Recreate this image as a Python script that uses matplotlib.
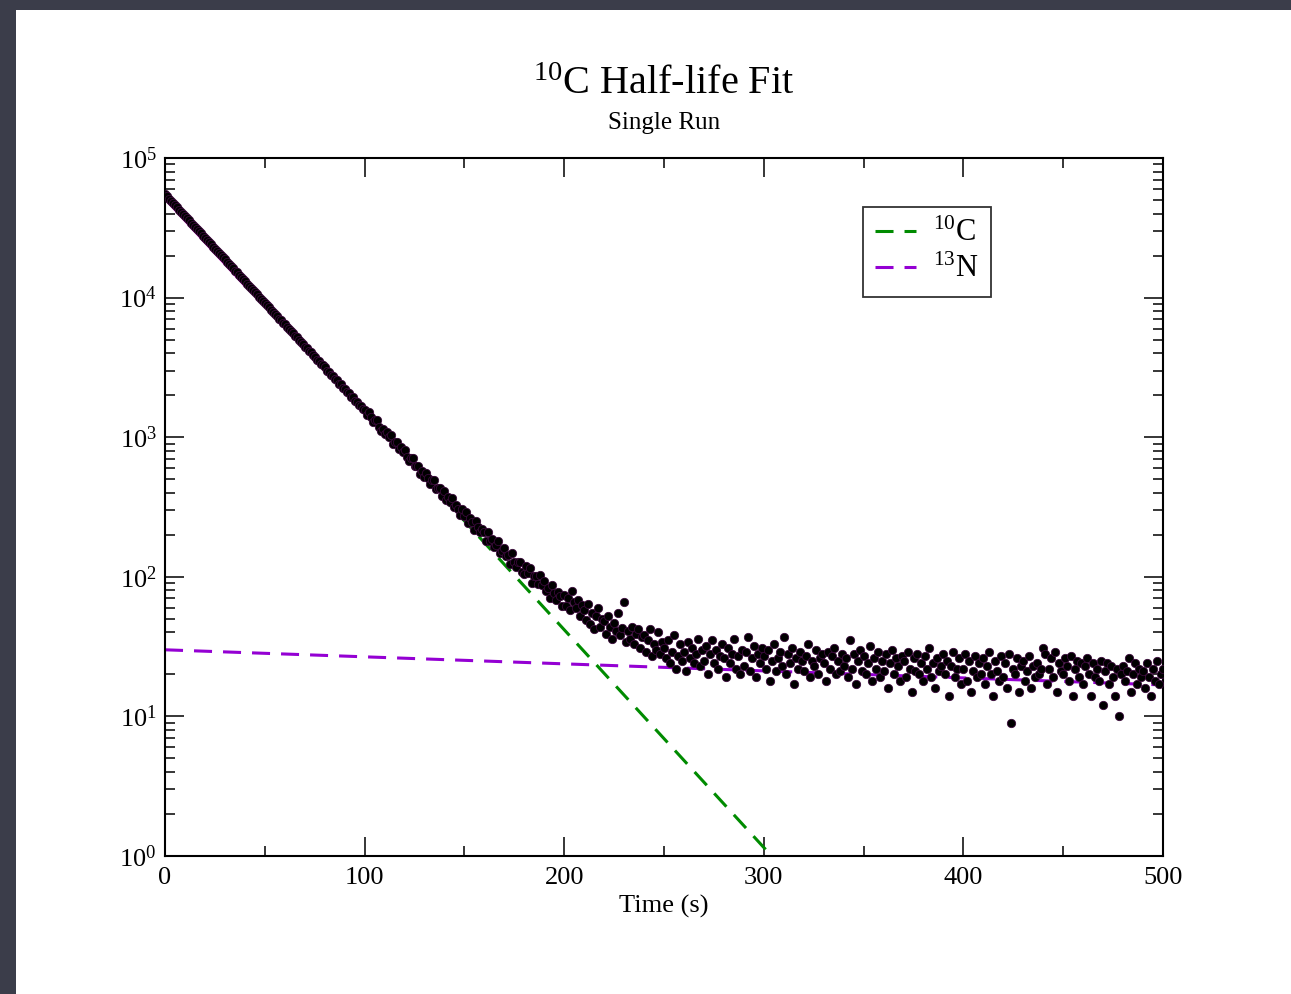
import numpy as np
import matplotlib
matplotlib.use("Agg")
import matplotlib.pyplot as plt
from matplotlib.patches import Rectangle
from matplotlib.ticker import LogLocator, MultipleLocator, NullFormatter

plt.rcParams['font.family'] = ['Liberation Serif', 'DejaVu Serif']
plt.rcParams['mathtext.fontset'] = 'custom'
plt.rcParams['mathtext.rm'] = 'Liberation Serif'
plt.rcParams['mathtext.it'] = 'Liberation Serif:italic'

# Counts per 1 s bin, t = 0 .. 500 s
counts = [
    55120, 53010, 51260, 49330, 47700, 45890, 44410, 42720, 41300, 39760,
    38450, 37010, 35790, 34420, 33310, 32050, 31010, 29830, 28860, 27760,
    26790, 25920, 24910, 24130, 23190, 22450, 21580, 20900, 20080, 19450,
    18760, 18030, 17470, 16780, 16260, 15610, 15130, 14530, 14090, 13520,
    13110, 12580, 12200, 11710, 11360, 10890, 10570, 10140, 9840, 9440,
    9160, 8790, 8530, 8170, 7940, 7600, 7390, 7080, 6880, 6590,
    6430, 6160, 5990, 5730, 5580, 5330, 5200, 4960, 4840, 4620,
    4460, 4350, 4150, 4060, 3860, 3780, 3590, 3520, 3340, 3280,
    3170, 3000, 2950, 2800, 2750, 2600, 2560, 2420, 2390, 2260,
    2230, 2100, 2080, 1950, 1940, 1820, 1800, 1690, 1680, 1580,
    1574, 1445, 1510, 1388, 1286, 1333, 1324, 1182, 1106, 1146,
    1053, 1091, 1003, 1037, 897, 921, 925, 817, 847, 778,
    804, 725, 679, 712, 714, 626, 623, 626, 547, 573,
    520, 555, 511, 460, 492, 494, 429, 436, 434, 380,
    413, 354, 372, 342, 368, 314, 329, 306, 275, 304,
    272, 291, 244, 265, 246, 218, 250, 229, 209, 220,
    209, 181, 208, 181, 188, 163, 170, 180, 148, 152,
    160, 140, 143, 123, 148, 128, 117, 128, 128, 109,
    105, 119, 107, 115, 91, 102, 102, 89, 103, 88,
    94, 79, 83, 70, 87, 76, 68, 78, 73, 62,
    74, 62, 70, 58, 79, 66, 60, 68, 52, 63,
    58, 49, 64, 46, 55, 42, 52, 60, 44, 50,
    48, 39, 52, 44, 36, 47, 41, 55, 38, 43,
    66, 34, 41, 36, 44, 33, 39, 42, 31, 37,
    38, 29, 35, 42, 27, 33, 30, 40, 28, 34,
    31, 26, 35, 24, 29, 38, 22, 27, 33, 25,
    29, 21, 34, 26, 31, 24, 28, 36, 23, 30,
    25, 32, 20, 28, 35, 24, 30, 22, 27, 33,
    26, 19, 31, 24, 28, 36, 22, 27, 20, 30,
    23, 29, 37, 21, 26, 32, 19, 28, 24, 31,
    27, 22, 30, 18, 25, 33, 21, 26, 29, 23,
    37, 20, 28, 24, 31, 17, 26, 22, 29, 25,
    21, 27, 33, 19, 25, 23, 30, 20, 26, 28,
    24, 18, 29, 22, 27, 31, 20, 25, 21, 28,
    23, 26, 19, 35, 22, 28, 17, 25, 30, 21,
    27, 20, 24, 32, 18, 26, 22, 29, 19, 25,
    21, 28, 16, 24, 30, 20, 26, 23, 18, 27,
    25, 19, 29, 22, 15, 26, 21, 28, 20, 24,
    18, 27, 22, 31, 19, 24, 16, 26, 21, 23,
    28, 20, 25, 14, 23, 29, 19, 22, 26, 17,
    22, 28, 18, 25, 15, 21, 27, 19, 24, 20,
    26, 17, 23, 29, 20, 14, 25, 21, 18, 27,
    19, 24, 16, 28, 9, 22, 20, 26, 15, 23,
    25, 18, 21, 27, 16, 23, 19, 24, 20, 22,
    31, 28, 17, 22, 26, 19, 29, 15, 24, 21,
    20, 26, 23, 18, 27, 14, 22, 25, 19, 24,
    17, 23, 26, 20, 14, 24, 19, 22, 18, 25,
    12, 21, 24, 17, 23, 19, 14, 22, 10, 20,
    23, 18, 21, 26, 15, 20, 24, 17, 22, 19,
    21, 16, 24, 19, 14, 22, 18, 25, 17, 20,
    22,
]
time = np.arange(len(counts))

# Fit parameters: amplitude and half-life (s) of each component
c10_amp, c10_half = 55000.0, 19.3
n13_amp, n13_half = 30.0, 598.0

t_fit = np.linspace(0, 500, 1001)
c10_fit = c10_amp * 2.0 ** (-t_fit / c10_half)
n13_fit = n13_amp * 2.0 ** (-t_fit / n13_half)
total_fit = c10_fit + n13_fit

fig = plt.figure(figsize=(12.91, 9.94), dpi=100)
fig.patch.set_facecolor('#3b3d4a')
fig.patches.append(Rectangle((16 / 1291, 0), 1 - 16 / 1291, 1 - 10 / 994,
                             transform=fig.transFigure, facecolor='white',
                             edgecolor='none', zorder=-10))

ax = fig.add_axes([165 / 1291, 138 / 994, 998 / 1291, 698 / 994])
ax.set_yscale('log')
ax.set_xlim(0, 500)
ax.set_ylim(1, 1e5)

dash = (5.9, 3.6)
ax.plot(t_fit[t_fit <= 40], total_fit[t_fit <= 40] * 0.93, color='magenta', lw=2.0, zorder=2)
ax.plot(t_fit, c10_fit, color='#008b00', lw=2.2, dashes=dash, label='$^{10}$C', zorder=2)
ax.plot(t_fit, n13_fit, color='#9400d3', lw=2.2, dashes=dash, label='$^{13}$N', zorder=2)
ax.plot(time, counts, 'o', ms=6.0, mfc='black', mec='#3a0a3a', mew=0.6,
        ls='none', zorder=3)

# Ticks on all four sides, pointing in
ax.xaxis.set_major_locator(MultipleLocator(100))
ax.xaxis.set_minor_locator(MultipleLocator(50))
ax.yaxis.set_major_locator(LogLocator(base=10, numticks=10))
ax.yaxis.set_minor_locator(LogLocator(base=10, subs=np.arange(2, 10), numticks=10))
ax.yaxis.set_minor_formatter(NullFormatter())
ax.tick_params(which='both', direction='in', top=True, right=True, width=1.1,
               labelsize=19, colors='black')
ax.tick_params(which='major', length=14)
ax.tick_params(which='minor', length=7.5)
ax.tick_params(axis='x', which='major', pad=8)
ax.tick_params(axis='y', which='major', pad=6)
for s in ax.spines.values():
    s.set_linewidth(1.5)

ax.set_xlabel('Time (s)', fontsize=19, labelpad=4)

fig.text(0.514, 1 - 84 / 994, '$^{10}$C Half-life Fit', fontsize=29,
         ha='center', va='center')
fig.text(0.514, 1 - 123 / 994, 'Single Run', fontsize=18, ha='center', va='center')

leg = ax.legend(loc='upper left', bbox_to_anchor=(698 / 998, 1 - 49 / 698),
                fontsize=22, frameon=True, fancybox=False, handlelength=1.35,
                handletextpad=0.55, borderpad=0.4, borderaxespad=0,
                labelspacing=0.22)
leg.get_frame().set_edgecolor('black')
leg.get_frame().set_linewidth(1.3)

fig.savefig('out.png', dpi=100, facecolor=fig.get_facecolor())
